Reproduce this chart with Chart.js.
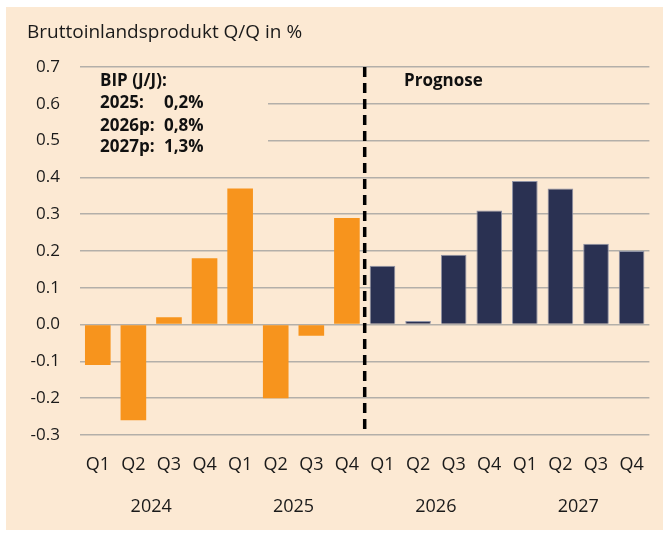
<!DOCTYPE html>
<html>
<head>
<meta charset="utf-8">
<script src="https://cdn.jsdelivr.net/npm/chart.js@4/dist/chart.umd.min.js"></script>
<style>
  html, body { margin: 0; padding: 0; background: #ffffff; }
  #wrap { width: 663px; height: 537px; position: relative; }
</style>
</head>
<body>
<div id="wrap"><canvas id="c" width="663" height="537"></canvas></div>
<script>
// ---- data ----
const quarters = ['Q1','Q2','Q3','Q4','Q1','Q2','Q3','Q4','Q1','Q2','Q3','Q4','Q1','Q2','Q3','Q4'];
const years = ['2024','2025','2026','2027'];
const actual = [-0.11, -0.26, 0.02, 0.18, 0.37, -0.20, -0.03, 0.29, null, null, null, null, null, null, null, null];
const forecast = [null, null, null, null, null, null, null, null, 0.16, 0.01, 0.19, 0.31, 0.39, 0.37, 0.22, 0.20];
const yTicks = [-0.3, -0.2, -0.1, 0.0, 0.1, 0.2, 0.3, 0.4, 0.5, 0.6, 0.7];
const titleText = 'Bruttoinlandsprodukt Q/Q in %';
const boxHeader = 'BIP (J/J):';
const boxLabels = ['2025:', '2026p:', '2027p:'];
const boxValues = ['0,2%', '0,8%', '1,3%'];
const forecastLabel = 'Prognose';

const BG = '#FCE9D3';
const FONT = "'Open Sans', 'Noto Sans', sans-serif";

const decor = {
  id: 'decor',
  beforeDraw(chart) {
    const ctx = chart.ctx;
    ctx.save();
    ctx.fillStyle = BG;
    ctx.fillRect(6, 7, 663 - 6, 530 - 7);
    ctx.restore();
  },
  beforeDatasetsDraw(chart) {
    const ctx = chart.ctx;
    const y = chart.scales.y;
    ctx.save();
    ctx.fillStyle = BG;
    const top = y.getPixelForValue(0.7) + 4;
    const bot = y.getPixelForValue(0.4) - 4;
    ctx.fillRect(chart.chartArea.left, top, 268 - chart.chartArea.left, bot - top);
    ctx.restore();
  },
  afterDraw(chart) {
    const ctx = chart.ctx;
    const x = chart.scales.x;
    const y = chart.scales.y;
    ctx.save();
    // title
    ctx.fillStyle = '#1a1a1a';
    ctx.font = "19px " + FONT;
    ctx.textBaseline = 'middle';
    ctx.textAlign = 'left';
    ctx.fillText(titleText, 27, 33);
    // dashed separator
    const xs = (x.getPixelForValue(7) + x.getPixelForValue(8)) / 2;
    ctx.strokeStyle = '#000000';
    ctx.lineWidth = 3.5;
    ctx.setLineDash([10, 6]);
    ctx.beginPath();
    ctx.moveTo(xs, y.getPixelForValue(0.7));
    ctx.lineTo(xs, y.getPixelForValue(-0.3));
    ctx.stroke();
    ctx.setLineDash([]);
    // annotation box text
    ctx.font = "bold 17px " + FONT;
    ctx.fillStyle = '#111111';
    ctx.fillText(boxHeader, 100, 81);
    const lineYs = [103, 126, 147];
    boxLabels.forEach((t, i) => {
      ctx.fillText(t, 100, lineYs[i]);
      ctx.fillText(boxValues[i], 164, lineYs[i]);
    });
    ctx.font = "bold 17px " + FONT;
    ctx.fillText(forecastLabel, 404, 81);
    ctx.restore();
  }
};

new Chart(document.getElementById('c'), {
  type: 'bar',
  data: {
    labels: quarters,
    datasets: [
      { label: 'Ist', data: actual, backgroundColor: '#F7941D', borderWidth: 0, grouped: false },
      { label: 'Prognose', data: forecast, backgroundColor: '#2A3152', borderColor: '#8F93A6', borderWidth: 1, grouped: false }
    ]
  },
  options: {
    responsive: false,
    animation: false,
    devicePixelRatio: 1,
    layout: { padding: { top: 67, right: 8, left: 0, bottom: 7 } },
    plugins: { legend: { display: false }, tooltip: { enabled: false }, title: { display: false } },
    datasets: { bar: { barPercentage: 0.72, categoryPercentage: 1.0 } },
    scales: {
      x: {
        type: 'category',
        position: 'bottom',
        offset: true,
        grid: { display: false, drawTicks: false },
        border: { display: false },
        ticks: { color: '#1a1a1a', font: { family: FONT, size: 18 }, padding: 19, maxRotation: 0, autoSkip: false },
        afterFit(s) { s.height = 45; }
      },
      x2: {
        type: 'category',
        position: 'bottom',
        labels: years,
        offset: true,
        grid: { display: false, drawTicks: false },
        border: { display: false },
        ticks: { color: '#1a1a1a', font: { family: FONT, size: 18 }, padding: 16, maxRotation: 0, autoSkip: false },
        afterFit(s) { s.height = 50; }
      },
      y: {
        min: -0.3,
        max: 0.7,
        afterBuildTicks(s) { s.ticks = yTicks.map(v => ({ value: v })); },
        grid: { color: '#B3AFA9', lineWidth: 1.5, drawTicks: false },
        border: { display: false },
        ticks: {
          color: '#1a1a1a', font: { family: FONT, size: 17 }, padding: 20,
          callback: v => Number(v).toFixed(1)
        },
        afterFit(s) { s.width = 80; }
      }
    }
  },
  plugins: [decor]
});
</script>
</body>
</html>
